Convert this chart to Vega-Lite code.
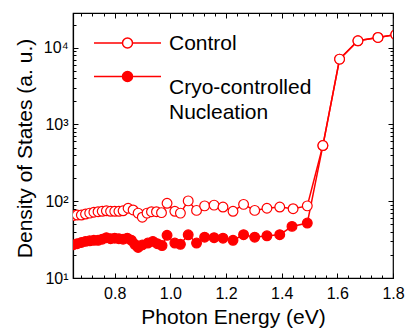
{
  "$schema": "https://vega.github.io/schema/vega-lite/v6.json",
  "width": 320,
  "height": 265,
  "autosize": {"type": "none"},
  "padding": {"left": 73, "top": 13, "right": 13, "bottom": 50},
  "background": "white",
  "config": {
    "view": {"stroke": "black", "strokeWidth": 1.2},
    "font": "Liberation Sans",
    "axis": {"domainColor": "black", "domainWidth": 1.2, "tickColor": "black", "tickWidth": 1, "labelColor": "black", "titleColor": "black", "grid": false, "labelFont": "Liberation Sans", "titleFont": "Liberation Sans", "titleFontWeight": "normal"}
  },
  "data": {
    "values": [
      {"series": "Cryo", "energy": 0.650, "dos": 27},
      {"series": "Cryo", "energy": 0.665, "dos": 28},
      {"series": "Cryo", "energy": 0.680, "dos": 29},
      {"series": "Cryo", "energy": 0.695, "dos": 30},
      {"series": "Cryo", "energy": 0.710, "dos": 30.5},
      {"series": "Cryo", "energy": 0.725, "dos": 31},
      {"series": "Cryo", "energy": 0.740, "dos": 31},
      {"series": "Cryo", "energy": 0.755, "dos": 32},
      {"series": "Cryo", "energy": 0.770, "dos": 33.5},
      {"series": "Cryo", "energy": 0.785, "dos": 32.5},
      {"series": "Cryo", "energy": 0.800, "dos": 33},
      {"series": "Cryo", "energy": 0.815, "dos": 32.5},
      {"series": "Cryo", "energy": 0.830, "dos": 32},
      {"series": "Cryo", "energy": 0.845, "dos": 33},
      {"series": "Cryo", "energy": 0.860, "dos": 31},
      {"series": "Cryo", "energy": 0.872, "dos": 27.5},
      {"series": "Cryo", "energy": 0.884, "dos": 25},
      {"series": "Cryo", "energy": 0.899, "dos": 27},
      {"series": "Cryo", "energy": 0.919, "dos": 28.5},
      {"series": "Cryo", "energy": 0.937, "dos": 30},
      {"series": "Cryo", "energy": 0.953, "dos": 28},
      {"series": "Cryo", "energy": 0.970, "dos": 26.5},
      {"series": "Cryo", "energy": 0.988, "dos": 36},
      {"series": "Cryo", "energy": 1.016, "dos": 28.5},
      {"series": "Cryo", "energy": 1.036, "dos": 27.5},
      {"series": "Cryo", "energy": 1.064, "dos": 36.5},
      {"series": "Cryo", "energy": 1.094, "dos": 28.5},
      {"series": "Cryo", "energy": 1.123, "dos": 34},
      {"series": "Cryo", "energy": 1.157, "dos": 33.5},
      {"series": "Cryo", "energy": 1.189, "dos": 33},
      {"series": "Cryo", "energy": 1.225, "dos": 31},
      {"series": "Cryo", "energy": 1.263, "dos": 36.6},
      {"series": "Cryo", "energy": 1.303, "dos": 34},
      {"series": "Cryo", "energy": 1.347, "dos": 35.5},
      {"series": "Cryo", "energy": 1.393, "dos": 36.6},
      {"series": "Cryo", "energy": 1.437, "dos": 47},
      {"series": "Cryo", "energy": 1.492, "dos": 52},
      {"series": "Cryo", "energy": 1.548, "dos": 531},
      {"series": "Cryo", "energy": 1.608, "dos": 7100},
      {"series": "Cryo", "energy": 1.674, "dos": 12300},
      {"series": "Cryo", "energy": 1.746, "dos": 13600},
      {"series": "Cryo", "energy": 1.810, "dos": 14800},
      {"series": "Control", "energy": 0.650, "dos": 65},
      {"series": "Control", "energy": 0.665, "dos": 66},
      {"series": "Control", "energy": 0.680, "dos": 66},
      {"series": "Control", "energy": 0.695, "dos": 68},
      {"series": "Control", "energy": 0.710, "dos": 70},
      {"series": "Control", "energy": 0.725, "dos": 72},
      {"series": "Control", "energy": 0.740, "dos": 73},
      {"series": "Control", "energy": 0.755, "dos": 74},
      {"series": "Control", "energy": 0.770, "dos": 75},
      {"series": "Control", "energy": 0.785, "dos": 74},
      {"series": "Control", "energy": 0.800, "dos": 74},
      {"series": "Control", "energy": 0.815, "dos": 74},
      {"series": "Control", "energy": 0.830, "dos": 75},
      {"series": "Control", "energy": 0.848, "dos": 81},
      {"series": "Control", "energy": 0.866, "dos": 77},
      {"series": "Control", "energy": 0.884, "dos": 70},
      {"series": "Control", "energy": 0.899, "dos": 62},
      {"series": "Control", "energy": 0.916, "dos": 70},
      {"series": "Control", "energy": 0.932, "dos": 73},
      {"series": "Control", "energy": 0.950, "dos": 73},
      {"series": "Control", "energy": 0.968, "dos": 71},
      {"series": "Control", "energy": 0.988, "dos": 94},
      {"series": "Control", "energy": 1.016, "dos": 74},
      {"series": "Control", "energy": 1.036, "dos": 70},
      {"series": "Control", "energy": 1.064, "dos": 101},
      {"series": "Control", "energy": 1.094, "dos": 76},
      {"series": "Control", "energy": 1.123, "dos": 87},
      {"series": "Control", "energy": 1.157, "dos": 89},
      {"series": "Control", "energy": 1.189, "dos": 84},
      {"series": "Control", "energy": 1.225, "dos": 74},
      {"series": "Control", "energy": 1.263, "dos": 91},
      {"series": "Control", "energy": 1.303, "dos": 76},
      {"series": "Control", "energy": 1.347, "dos": 81},
      {"series": "Control", "energy": 1.393, "dos": 84},
      {"series": "Control", "energy": 1.441, "dos": 80},
      {"series": "Control", "energy": 1.492, "dos": 87},
      {"series": "Control", "energy": 1.548, "dos": 531},
      {"series": "Control", "energy": 1.608, "dos": 7100},
      {"series": "Control", "energy": 1.674, "dos": 12300},
      {"series": "Control", "energy": 1.746, "dos": 13600},
      {"series": "Control", "energy": 1.810, "dos": 14800}
    ]
  },
  "resolve": {"axis": {"x": "independent", "y": "independent"}},
  "layer": [
    {
      "mark": {"type": "line", "color": "#ff0000", "strokeWidth": 1.5, "clip": true},
      "encoding": {
        "x": {"field": "energy", "type": "quantitative", "scale": {"domain": [0.65, 1.8], "nice": false, "zero": false},
          "axis": {"orient": "bottom", "values": [0.8, 1.0, 1.2, 1.4, 1.6, 1.8], "format": ".1f", "tickSize": -5, "labelPadding": 12, "labelFontSize": 16, "labelFlush": false, "labelOverlap": false, "title": "Photon Energy (eV)", "titleFontSize": 21, "titleY": 45, "titleBaseline": "alphabetic"}},
        "y": {"field": "dos", "type": "quantitative", "scale": {"type": "log", "domain": [10, 28300], "nice": false},
          "axis": {"orient": "left", "values": [10, 100, 1000, 10000], "labelExpr": "datum.value == 10 ? '10¹' : datum.value == 100 ? '10²' : datum.value == 1000 ? '10³' : '10⁴'", "tickSize": -5, "labelPadding": 10, "labelFontSize": 16, "labelOverlap": false, "title": "Density of States (a. u.)", "titleFontSize": 21, "titleX": -48, "titleY": 135, "titleAngle": -90, "titleAlign": "center", "titleBaseline": "middle"}},
        "detail": {"field": "series", "type": "nominal"}
      }
    },
    {
      "mark": {"type": "point", "filled": true, "shape": "circle", "size": 95, "stroke": "#ff0000", "strokeWidth": 1.2, "opacity": 1, "clip": true},
      "encoding": {
        "x": {"field": "energy", "type": "quantitative", "axis": null},
        "y": {"field": "dos", "type": "quantitative", "axis": null},
        "fill": {"field": "series", "type": "nominal", "scale": {"domain": ["Control", "Cryo"], "range": ["white", "#ff0000"]},
          "legend": {"orient": "none", "legendX": 35.5, "legendY": 11, "title": null, "padding": 0,
            "symbolType": "M-1.861,0L-0.278,0M0.278,0L1.861,0M-0.278,0A0.278,0.278,0,1,1,0.278,0A0.278,0.278,0,1,1,-0.278,0Z",
            "symbolSize": 1296, "symbolStrokeColor": "#ff0000", "symbolStrokeWidth": 1.5, "symbolOpacity": 1,
            "labelFontSize": 21, "labelFont": "Liberation Sans", "labelColor": "black", "labelLimit": 0, "labelOffset": 22.5, "rowPadding": 3.5,
            "labelExpr": "datum.value == 'Cryo' ? ['Cryo-controlled', 'Nucleation'] : datum.value",
            "encode": {"labels": {"update": {"lineHeight": {"value": 25}, "dy": {"signal": "datum.value == 'Cryo' ? 11 : 1"}}}}}}
      }
    },
    {
      "mark": {"type": "point", "opacity": 0},
      "encoding": {
        "x": {"field": "energy", "type": "quantitative", "axis": {"orient": "bottom", "values": [0.68, 0.72, 0.76, 0.84, 0.88, 0.92, 0.96, 1.04, 1.08, 1.12, 1.16, 1.24, 1.28, 1.32, 1.36, 1.44, 1.48, 1.52, 1.56, 1.64, 1.68, 1.72, 1.76], "tickSize": -3, "labels": false, "domain": false, "title": null}},
        "y": {"field": "dos", "type": "quantitative", "axis": {"orient": "left", "values": [20, 30, 40, 50, 60, 70, 80, 90, 200, 300, 400, 500, 600, 700, 800, 900, 2000, 3000, 4000, 5000, 6000, 7000, 8000, 9000, 20000], "tickSize": -3, "labels": false, "domain": false, "title": null}}
      }
    },
    {
      "mark": {"type": "point", "opacity": 0},
      "encoding": {
        "x": {"field": "energy", "type": "quantitative", "axis": {"orient": "top", "values": [0.8, 1.0, 1.2, 1.4, 1.6, 1.8], "tickSize": -5, "labels": false, "domain": false, "title": null}},
        "y": {"field": "dos", "type": "quantitative", "axis": {"orient": "right", "values": [10, 100, 1000, 10000], "tickSize": -5, "labels": false, "domain": false, "title": null}}
      }
    },
    {
      "mark": {"type": "point", "opacity": 0},
      "encoding": {
        "x": {"field": "energy", "type": "quantitative", "axis": {"orient": "top", "values": [0.68, 0.72, 0.76, 0.84, 0.88, 0.92, 0.96, 1.04, 1.08, 1.12, 1.16, 1.24, 1.28, 1.32, 1.36, 1.44, 1.48, 1.52, 1.56, 1.64, 1.68, 1.72, 1.76], "tickSize": -3, "labels": false, "domain": false, "title": null}},
        "y": {"field": "dos", "type": "quantitative", "axis": {"orient": "right", "values": [20, 30, 40, 50, 60, 70, 80, 90, 200, 300, 400, 500, 600, 700, 800, 900, 2000, 3000, 4000, 5000, 6000, 7000, 8000, 9000, 20000], "tickSize": -3, "labels": false, "domain": false, "title": null}}
      }
    }
  ]
}
